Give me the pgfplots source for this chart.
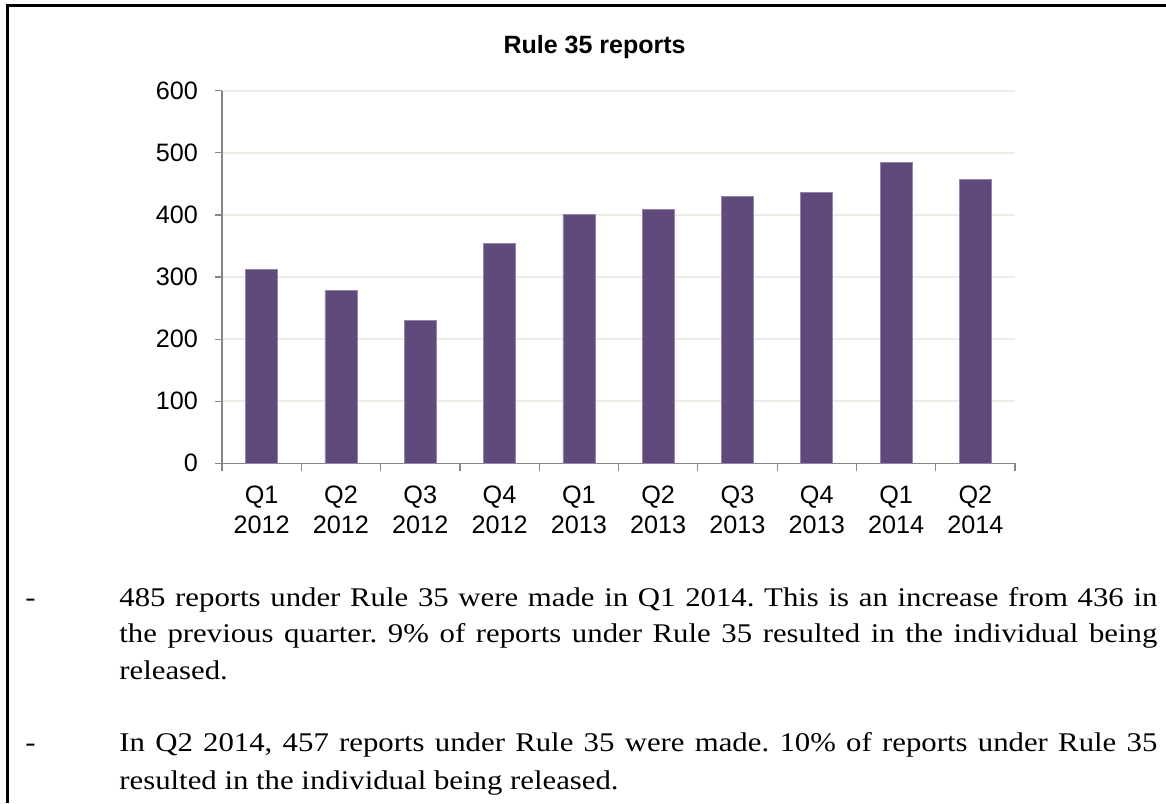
\documentclass[border=0pt]{standalone}
\usepackage{fontspec}
\setmainfont{Liberation Serif}
\newfontfamily\bodyfont{Liberation Serif}[FakeStretch=1.14]
\newfontfamily\arial{Liberation Sans}
\usepackage{pgfplots}
\pgfplotsset{compat=1.18}
\definecolor{barpurple}{RGB}{96,74,123}
\definecolor{baredge}{RGB}{150,132,172}
\definecolor{axisgray}{RGB}{134,134,134}
\definecolor{gridc}{RGB}{236,236,228}
\begin{document}
\frenchspacing
\begin{tikzpicture}
\useasboundingbox (0,0) rectangle (583pt,-401.5pt);
% frame
\draw[line width=1.3pt] (3.65pt,-401.5pt) -- (3.65pt,-2.85pt) -- (583pt,-2.85pt);
% title
\node[anchor=base east, inner sep=0pt, font=\arial\bfseries\fontsize{12.5}{14}\selectfont] at (343pt,-26.65pt) {Rule 35 reports};
\begin{axis}[
  at={(111pt,-231.65pt)}, anchor=south west,
  scale only axis, width=396.5pt, height=186.3pt,
  xmin=-0.5, xmax=9.5, ymin=0, ymax=600,
  axis x line*=bottom, axis y line*=left,
  axis line style={draw=axisgray, line width=0.6pt, -},
  ytick={0,100,...,600},
  xtick={0,...,9},
  xticklabels={{Q1\\2012},{Q2\\2012},{Q3\\2012},{Q4\\2012},{Q1\\2013},{Q2\\2013},{Q3\\2013},{Q4\\2013},{Q1\\2014},{Q2\\2014}},
  minor xtick={-0.5,0.5,...,9.5},
  tick align=outside,
  major tick length=3.5pt, minor tick length=3.8pt,
  major x tick style={draw=none},
  minor x tick style={draw=axisgray, line width=0.6pt},
  major y tick style={draw=axisgray, line width=0.6pt},
  ymajorgrids, grid style={draw=gridc, line width=0.8pt},
  /pgf/number format/assume math mode=true,
  ticklabel style={font=\arial\fontsize{12.6}{15}\selectfont},
  xticklabel style={align=center, yshift=-4.5pt},
  yticklabel style={xshift=-5pt},
  clip=false,
]
\addplot[ybar, bar width=16pt, fill=barpurple, draw=baredge, line width=0.3pt] coordinates {
(0,312) (1,279) (2,230) (3,354) (4,401) (5,409) (6,430) (7,436) (8,485) (9,457)};
\end{axis}
% body text
\begin{scope}[every node/.style={inner sep=0pt, anchor=base west, font=\bodyfont\fontsize{13.5}{18.25}\selectfont}]
\node at (12.5pt,-303pt) {-};
\node at (59.5pt,-303pt) {\makebox[519pt][s]{485 reports under Rule 35 were made in Q1 2014. This is an increase from 436 in}};
\node at (59.5pt,-321.35pt) {\makebox[519pt][s]{the previous quarter. 9\% of reports under Rule 35 resulted in the individual being}};
\node at (59.5pt,-339.5pt) {released.};
\node at (12.5pt,-375.85pt) {-};
\node at (59.5pt,-375.85pt) {\makebox[519pt][s]{In Q2 2014, 457 reports under Rule 35 were made. 10\% of reports under Rule 35}};
\node at (59.5pt,-394.6pt) {resulted in the individual being released.};
\end{scope}
\end{tikzpicture}
\end{document}
